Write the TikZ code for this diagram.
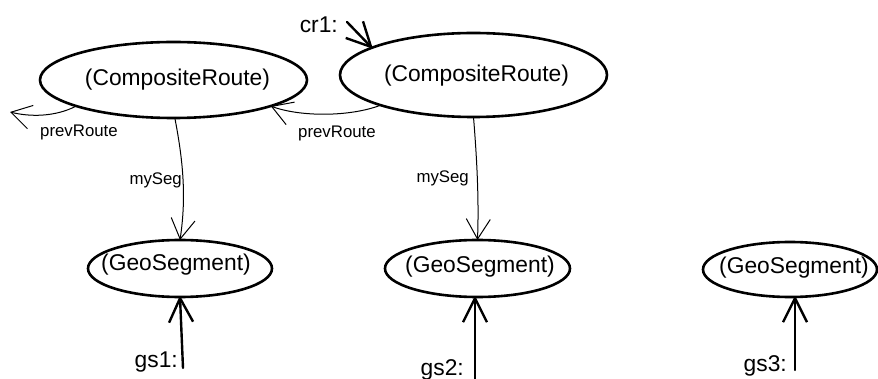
\documentclass[tikz,border=0pt]{standalone}
\usepackage{fontspec}
\setmainfont{Liberation Sans}
\usetikzlibrary{arrows.meta,shapes.geometric}

\tikzset{
  obj/.style={ellipse, draw, line width=2.6pt, inner sep=0pt, outer sep=0pt},
  big/.style={font=\fontsize{22.8}{27}\selectfont, inner sep=0pt},
  small/.style={font=\fontsize{16.8}{20}\selectfont, inner sep=0pt},
  refline/.style={line width=2.4pt, line join=round, line cap=round,
    -{Straight Barb[length=24pt,width=24pt,line join=round]}},
  assoc/.style={line width=1pt, line cap=round,
    -{Straight Barb[length=20pt,width=24pt]}}
}

\begin{document}
\begin{tikzpicture}[x=1pt,y=-1pt]
  \fill[white] (0,0) rectangle (878,379);
  \useasboundingbox (0,0) rectangle (878,379);

  % object ellipses
  \node[obj, minimum width=267pt, minimum height=76pt] (cra) at (173.5,80) {};
  \node[obj, minimum width=267pt, minimum height=84pt] (crb) at (473.5,75) {};
  \node[obj, minimum width=184pt, minimum height=57pt] (gsa) at (180,268.5) {};
  \node[obj, minimum width=185pt, minimum height=57pt] (gsb) at (477.5,268.5) {};
  \node[obj, minimum width=174pt, minimum height=55pt] (gsc) at (790,269.5) {};

  % class names
  \node[big] (crat) at (177.5,80) {(CompositeRoute)};
  \node[big] (crbt) at (476.5,76) {(CompositeRoute)};
  \node[big] (gsat) at (176,264.5) {(GeoSegment)};
  \node[big] (gsbt) at (480,266.5) {(GeoSegment)};
  \node[big] (gsct) at (794,268) {(GeoSegment)};

  % reference names
  \node[big, anchor=base east] (cr1) at (338,33) {cr1:};
  \node[big, anchor=base east] (gs1) at (178,367) {gs1:};
  \node[big, anchor=base east] (gs2) at (464,375) {gs2:};
  \node[big, anchor=base east] (gs3) at (787,371) {gs3:};

  \coordinate (cr1s) at (347,22);
  \coordinate (gs1s) at (183,368);
  \coordinate (gs2s) at (475,381);
  \coordinate (gs3s) at (795,370);
  \coordinate (prevend) at (10,112);

  % references to objects
  \draw[refline] (cr1s) -- (crb.165);
  \draw[refline] (gs1s) -- (gsa.south);
  \draw[refline] (gs2s) -- (gs2s |- gsb.south);
  \draw[refline] (gs3s) -- (gs3s |- gsc.south);

  % links between objects
  \draw[assoc] (cra.195.8) .. controls (55,117) and (30,117) .. (prevend);
  \draw[assoc] (crb.198) .. controls (350,117) and (300,117) .. (cra.345);
  \draw[assoc] (cra.272) .. controls (184,165) and (186,200) .. (gsa.north);
  \draw[assoc] (crb.south) .. controls (477,160) and (479,200) .. (gsb.north);

  % link labels
  \node[small, anchor=base west] (pr1) at (40,137) {prevRoute};
  \node[small, anchor=base west] (pr2) at (298,138) {prevRoute};
  \node[small, anchor=base east] (ms1) at (182,185) {mySeg};
  \node[small, anchor=base east] (ms2) at (469,183) {mySeg};
\end{tikzpicture}
\end{document}
